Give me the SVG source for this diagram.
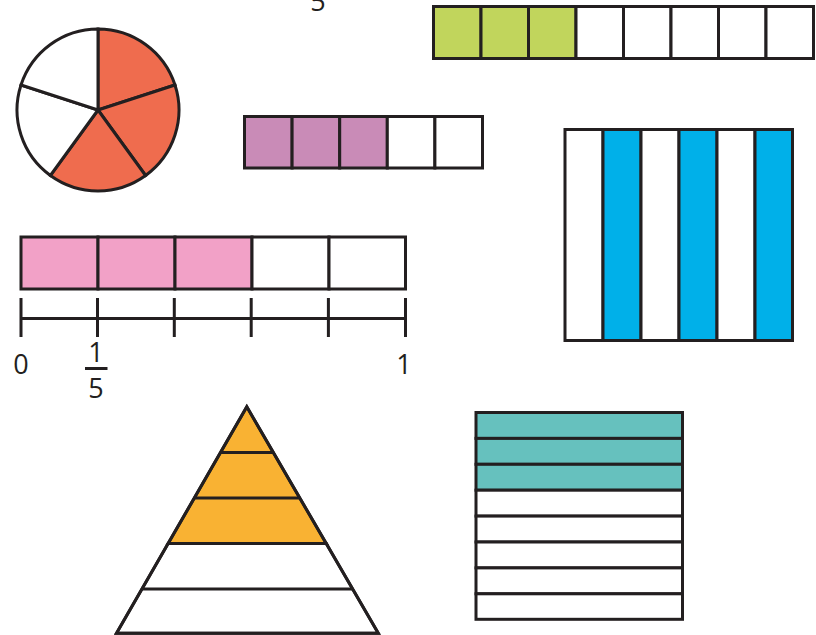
<svg xmlns="http://www.w3.org/2000/svg" width="816" height="635" viewBox="0 0 816 635">
<style>
.s{stroke:#231f20;stroke-width:3;stroke-linejoin:miter}
.w{fill:#ffffff}
.t{font-family:"Open Sans","Noto Sans","Liberation Sans",sans-serif;font-size:27px;fill:#231f20;text-anchor:middle}
</style>
<rect width="816" height="635" fill="#ffffff"/>
<g id="top-label">
<text class="t" x="318" y="11">5</text>
</g>
<g id="pie">
<path class="s" fill="#ef6c4e" d="M98,110 L98,29 A81,81 0 0 1 175,85 Z"/>
<path class="s" fill="#ef6c4e" d="M98,110 L175,85 A81,81 0 0 1 145.6,175.5 Z"/>
<path class="s" fill="#ef6c4e" d="M98,110 L145.6,175.5 A81,81 0 0 1 50.4,175.5 Z"/>
<path class="s w" d="M98,110 L50.4,175.5 A81,81 0 0 1 21,85 Z"/>
<path class="s w" d="M98,110 L21,85 A81,81 0 0 1 98,29 Z"/>
</g>
<g id="green-bar">
<rect class="s" fill="#c1d55c" x="433.5" y="6.5" width="47.5" height="52"/>
<rect class="s" fill="#c1d55c" x="481" y="6.5" width="47.5" height="52"/>
<rect class="s" fill="#c1d55c" x="528.5" y="6.5" width="47.5" height="52"/>
<rect class="s w" x="576" y="6.5" width="47.5" height="52"/>
<rect class="s w" x="623.5" y="6.5" width="47.5" height="52"/>
<rect class="s w" x="671" y="6.5" width="47.5" height="52"/>
<rect class="s w" x="718.5" y="6.5" width="47.5" height="52"/>
<rect class="s w" x="766" y="6.5" width="47.5" height="52"/>
</g>
<g id="purple-bar">
<rect class="s" fill="#c98bb7" x="244.5" y="116.5" width="47.6" height="51.5"/>
<rect class="s" fill="#c98bb7" x="292.1" y="116.5" width="47.6" height="51.5"/>
<rect class="s" fill="#c98bb7" x="339.7" y="116.5" width="47.6" height="51.5"/>
<rect class="s w" x="387.3" y="116.5" width="47.6" height="51.5"/>
<rect class="s w" x="434.9" y="116.5" width="47.6" height="51.5"/>
</g>
<g id="pink-bar">
<rect class="s" fill="#f2a1c7" x="21" y="237" width="77" height="52"/>
<rect class="s" fill="#f2a1c7" x="98" y="237" width="77" height="52"/>
<rect class="s" fill="#f2a1c7" x="175" y="237" width="77" height="52"/>
<rect class="s w" x="252" y="237" width="77" height="52"/>
<rect class="s w" x="329" y="237" width="76.5" height="52"/>
</g>
<g id="number-line">
<path class="s" fill="none" d="M21,318.5 H405.5 M21,298 V337 M97.5,298 V337 M174.3,298 V337 M251.2,298 V337 M328.4,298 V337 M405.5,298 V337"/>
<text class="t" x="21" y="374" font-size="28">0</text>
<text class="t" x="96" y="362">1</text>
<line class="s" x1="85" y1="368.5" x2="107.5" y2="368.5" stroke-width="2.5"/>
<text class="t" x="96" y="398">5</text>
<text class="t" x="404" y="374" font-size="28">1</text>
</g>
<g id="blue-stripes">
<rect class="s w" x="565" y="129.5" width="38" height="211"/>
<rect class="s" fill="#00b0e9" x="603" y="129.5" width="38" height="211"/>
<rect class="s w" x="641" y="129.5" width="38" height="211"/>
<rect class="s" fill="#00b0e9" x="679" y="129.5" width="38" height="211"/>
<rect class="s w" x="717" y="129.5" width="38" height="211"/>
<rect class="s" fill="#00b0e9" x="755" y="129.5" width="37.5" height="211"/>
</g>
<g id="triangle">
<path class="s" fill="#f9b233" d="M246.8,406.8 L168.1,543.6 L326.3,543.6 Z"/>
<path class="s w" d="M168.1,543.6 L326.3,543.6 L378.3,633.2 L116.5,633.2 Z"/>
<path class="s" fill="none" d="M220.6,452.4 H273.3 M194.3,498 H299.8 M142,588.9 H352.6"/>
<path class="s" fill="none" d="M246.8,406.8 L378.3,633.2 L116.5,633.2 Z"/>
</g>
<g id="teal-rows">
<rect class="s" fill="#66c1be" x="476" y="412.5" width="206.5" height="25.9"/>
<rect class="s" fill="#66c1be" x="476" y="438.4" width="206.5" height="25.9"/>
<rect class="s" fill="#66c1be" x="476" y="464.3" width="206.5" height="25.9"/>
<rect class="s w" x="476" y="490.2" width="206.5" height="25.9"/>
<rect class="s w" x="476" y="516.1" width="206.5" height="25.9"/>
<rect class="s w" x="476" y="542" width="206.5" height="25.9"/>
<rect class="s w" x="476" y="567.9" width="206.5" height="25.9"/>
<rect class="s w" x="476" y="593.8" width="206.5" height="25.5"/>
</g>
</svg>
